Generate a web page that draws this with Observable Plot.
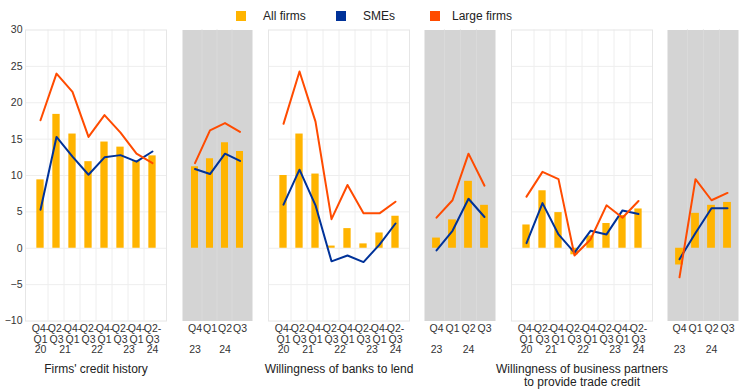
<!DOCTYPE html>
<html><head><meta charset="utf-8">
<script src="https://cdn.jsdelivr.net/npm/d3@7"></script>
<script src="https://cdn.jsdelivr.net/npm/@observablehq/plot@0.6"></script>
<style>
body{margin:0;background:#fff;font-family:"Liberation Sans",Arial,sans-serif;}
#chart{position:relative;width:744px;height:392px;overflow:hidden;background:#fff}
.panel{position:absolute;top:0}
.sw{position:absolute;top:11px;width:10px;height:10px}
.lt{position:absolute;top:8.5px;line-height:14px;font-size:12px;color:#222;white-space:nowrap}
</style></head><body><div id="chart"></div><script>
// ---- tick labels ----
const halfYearTicks = ["Q4-\nQ1","Q2-\nQ3","Q4-\nQ1","Q2-\nQ3","Q4-\nQ1","Q2-\nQ3","Q4-\nQ1","Q2-\nQ3"];
const quarterTicks = ["Q4","Q1","Q2","Q3"];
// year labels: anchor category index, and whether it sits between two categories
const halfYearYears = [
  {label:"20", at:0, between:false},
  {label:"21", at:1, between:true},
  {label:"22", at:3, between:true},
  {label:"23", at:5, between:true},
  {label:"24", at:7, between:false}
];
const quarterYears = [
  {label:"23", at:0, between:false},
  {label:"24", at:2, between:false}
];
const yTicks = [-10,-5,0,5,10,15,20,25,30];
const seriesNames = ["All firms","SMEs","Large firms"];
const panelTitles = ["Firms' credit history","Willingness of banks to lend","Willingness of business partners\nto provide trade credit"];

// ---- Firms' credit history ----
const creditAll   = [9.4, 18.4, 15.7, 11.9, 14.6, 13.9, 12.0, 12.7];
const creditSme   = [5.3, 15.3, 12.6, 10.1, 12.5, 12.8, 11.9, 13.3];
const creditLarge = [17.6, 24.0, 21.5, 15.3, 18.3, 15.9, 13.0, 11.7];
const creditAllQ   = [11.2, 12.3, 14.5, 13.3];
const creditSmeQ   = [10.9, 10.2, 13.0, 12.0];
const creditLargeQ = [11.7, 16.2, 17.2, 16.0];

// ---- Willingness of banks to lend ----
const banksAll   = [10.0, 15.7, 10.2, 0.3, 2.7, 0.6, 2.1, 4.4];
const banksSme   = [6.0, 10.8, 5.9, -1.8, -1.0, -1.9, 0.5, 3.4];
const banksLarge = [17.1, 24.3, 17.4, 4.0, 8.7, 4.8, 4.8, 6.4];
const banksAllQ   = [1.4, 3.9, 9.2, 5.9];
const banksSmeQ   = [-0.3, 2.4, 6.8, 4.3];
const banksLargeQ = [4.2, 6.6, 13.0, 8.6];

// ---- Willingness of business partners to provide trade credit ----
const tradeAll   = [3.2, 7.9, 4.9, -0.9, 1.7, 3.4, 4.5, 5.4];
const tradeSme   = [0.7, 6.2, 1.9, -0.6, 2.4, 1.9, 5.2, 4.7];
const tradeLarge = [7.1, 10.5, 9.5, -1.0, 1.2, 5.9, 4.2, 6.5];
const tradeAllQ   = [-2.3, 4.8, 5.9, 6.3];
const tradeSmeQ   = [-1.5, 2.1, 5.5, 5.5];
const tradeLargeQ = [-4.0, 9.5, 6.6, 7.6];

const colors = {all:"#FFB400", sme:"#003299", large:"#FF4B00"};

const panels = [
  {left:25,  width:141, ticks:halfYearTicks, years:halfYearYears, all:creditAll, sme:creditSme, large:creditLarge, title:panelTitles[0], yAxis:true},
  {left:182, width:70,  ticks:quarterTicks, years:quarterYears, all:creditAllQ, sme:creditSmeQ, large:creditLargeQ, gray:true},
  {left:268, width:141, ticks:halfYearTicks, years:halfYearYears, all:banksAll, sme:banksSme, large:banksLarge, title:panelTitles[1]},
  {left:424, width:71,  ticks:quarterTicks, years:quarterYears, all:banksAllQ, sme:banksSmeQ, large:banksLargeQ, gray:true},
  {left:511, width:141, ticks:halfYearTicks, years:halfYearYears, all:tradeAll, sme:tradeSme, large:tradeLarge, title:panelTitles[2]},
  {left:667, width:71,  ticks:quarterTicks, years:quarterYears, all:tradeAllQ, sme:tradeSmeQ, large:tradeLargeQ, gray:true}
];

const chart = document.getElementById("chart");

function makePanel(cfg){
  const n = cfg.ticks.length;
  const idx = d3.range(n);
  const po = cfg.gray ? 0.19 : 0.15;
  const ml = cfg.yAxis ? 25 : 0;
  const step = cfg.width/(n+2*po);
  const barW = cfg.gray ? 8 : 8.3;
  const inset = (step-barW)/2;
  const rows = idx.map(i=>({i, all:cfg.all[i], sme:cfg.sme[i], large:cfg.large[i]}));
  const marks = [];
  if (cfg.gray) {
    marks.push(Plot.frame({fill:"#d4d4d4", stroke:null}));
    marks.push(Plot.ruleX(idx.slice(1), {dx:-step/2, stroke:"#dadada"}));
  } else {
    marks.push(Plot.ruleY(yTicks.slice(1,-1), {stroke:"#eeeeee"}));
    marks.push(Plot.ruleX(idx.slice(1), {dx:-step/2, stroke:"#eeeeee"}));
    marks.push(Plot.frame({stroke:"#e6e6e6"}));
  }
  marks.push(Plot.barY(rows, {x:"i", y:"all", fill:colors.all, insetLeft:inset, insetRight:inset}));
  marks.push(Plot.lineY(rows, {x:"i", y:"sme", stroke:colors.sme, strokeWidth:2}));
  marks.push(Plot.lineY(rows, {x:"i", y:"large", stroke:colors.large, strokeWidth:2}));
  marks.push(Plot.axisX({tickSize:0, tickPadding:3, tickFormat:i=>cfg.ticks[i], fontSize:10.5, lineHeight:1.05, label:null}));
  marks.push(Plot.text(cfg.years.filter(d=>!d.between), {x:"at", text:"label", frameAnchor:"bottom", lineAnchor:"top", dy:25, fontSize:10.5}));
  marks.push(Plot.text(cfg.years.filter(d=>d.between), {x:"at", text:"label", frameAnchor:"bottom", lineAnchor:"top", dy:25, dx:step/2, fontSize:10.5}));
  if (cfg.title) marks.push(Plot.text([cfg.title], {frameAnchor:"bottom", lineAnchor:"top", dy:42.5, fontSize:12, lineHeight:1.08, fill:"#222"}));
  if (cfg.yAxis) marks.push(Plot.axisY({ticks:yTicks, tickSize:0, tickPadding:3, fontSize:10.5, label:null}));
  const svg = Plot.plot({
    width: cfg.width + ml, height: 392,
    marginTop: 29.5, marginBottom: 71.5, marginLeft: ml, marginRight: 0,
    x: {type:"band", domain: idx, paddingInner:0, paddingOuter:po, align:0.5, axis:null},
    y: {domain:[-10,30], axis:null},
    style: {fontFamily:'"Liberation Sans", Arial, sans-serif', color:"#333", overflow:"visible", background:"transparent"},
    marks
  });
  svg.classList.add("panel");
  svg.style.left = (cfg.left - ml) + "px";
  chart.appendChild(svg);
}
panels.forEach(makePanel);

// ---- legend ----
const legendItems = [
  {name:seriesNames[0], color:colors.all,   sw:236, tx:263},
  {name:seriesNames[1], color:colors.sme,   sw:336, tx:363},
  {name:seriesNames[2], color:colors.large, sw:430, tx:452}
];
legendItems.forEach(d=>{
  const s = document.createElement("div"); s.className="sw"; s.style.left=d.sw+"px"; s.style.background=d.color; chart.appendChild(s);
  const t = document.createElement("div"); t.className="lt"; t.style.left=d.tx+"px"; t.textContent=d.name; chart.appendChild(t);
});
</script></body></html>
